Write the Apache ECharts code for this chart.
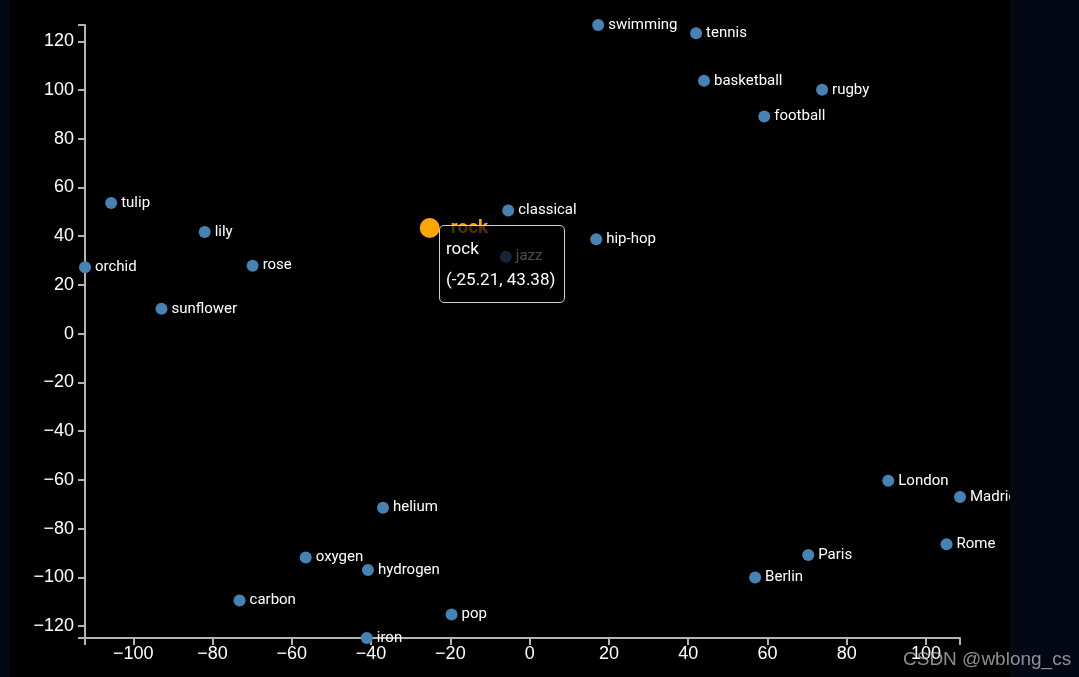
<!DOCTYPE html>
<html>
<head>
<meta charset="utf-8">
<script src="https://cdn.jsdelivr.net/npm/echarts@6/dist/echarts.min.js"></script>
<style>
  html, body { margin: 0; padding: 0; background: #040814; width: 1079px; height: 677px; overflow: hidden; }
  #chart { position: absolute; left: 10px; top: 0; width: 1000px; height: 677px; background: #000; }
  .mark { position: absolute; left: 903px; top: 649px; font: 19px 'Liberation Sans', sans-serif; line-height: 19px; color: rgba(190, 190, 190, 0.75); white-space: nowrap; }
</style>
</head>
<body>
<div id="chart"></div>
<div class="mark">CSDN @wblong_cs</div>
<script>
// words and their 2-D embedding coordinates
const words = ['swimming', 'tennis', 'basketball', 'rugby', 'football',
  'tulip', 'lily', 'orchid', 'rose', 'sunflower',
  'rock', 'classical', 'jazz', 'hip-hop', 'pop',
  'iron', 'carbon', 'oxygen', 'hydrogen', 'helium',
  'London', 'Madrid', 'Rome', 'Paris', 'Berlin']
const xs = [17.3, 42.0, 44.0, 73.8, 59.2,
  -105.6, -82.0, -112.2, -69.9, -92.9,
  -25.21, -5.4, -6.0, 16.8, -19.7,
  -41.1, -73.2, -56.5, -40.8, -37.0,
  90.5, 108.6, 105.2, 70.3, 56.9]
const ys = [126.7, 123.3, 103.8, 100.1, 89.1,
  53.6, 41.7, 27.3, 27.9, 10.2,
  43.38, 50.6, 31.6, 38.8, -115.3,
  -124.9, -109.5, -91.9, -97.0, -71.4,
  -60.4, -67.0, -86.4, -90.8, -100.1]
const xTicks = [-100, -80, -60, -40, -20, 0, 20, 40, 60, 80, 100]
const yTicks = [-120, -100, -80, -60, -40, -20, 0, 20, 40, 60, 80, 100, 120]
const selected = 'rock'

const minus = v => (v < 0 ? '\u2212' + Math.abs(v) : String(v))

const points = words.map((name, i) => {
  const item = { name, value: [xs[i], ys[i]] }
  if (name === selected) {
    item.symbolSize = 20
    item.itemStyle = { color: '#ffa500', opacity: 1 }
    item.label = { color: '#ffa500', fontWeight: 'bold', fontSize: 19, distance: 11 }
  }
  return item
})

// d3-like axis: domain = data extent, outer ticks at both ends
function axis(values, ticks, margin) {
  const lo = Math.min(...values)
  const hi = Math.max(...values)
  return {
    type: 'value',
    min: lo,
    max: hi,
    splitLine: { show: false },
    axisLine: { onZero: false, lineStyle: { color: '#b4b4b4', width: 2 } },
    axisTick: { length: 7, customValues: [lo, ...ticks, hi], lineStyle: { color: '#b4b4b4', width: 2 } },
    axisLabel: {
      customValues: ticks, margin,
      color: '#fff', fontSize: 18, fontFamily: 'Liberation Sans', formatter: minus
    }
  }
}

const chart = echarts.init(document.getElementById('chart'))
chart.setOption({
  animation: false,
  backgroundColor: '#000',
  grid: { left: 75, right: 50, top: 25, bottom: 39, containLabel: false, outerBoundsMode: 'none' },
  xAxis: axis(xs, xTicks, 7),
  yAxis: axis(ys, yTicks, 11),
  tooltip: {
    trigger: 'item',
    triggerOn: 'none',
    alwaysShowContent: true,
    transitionDuration: 0,
    position: [429, 225],
    backgroundColor: 'rgba(0,0,0,0.7)',
    borderColor: '#cfcfcf',
    borderWidth: 1,
    borderRadius: 5,
    padding: [7, 9, 7, 6],
    extraCssText: 'box-shadow:none;',
    formatter: p => `<div style="font:17px Roboto,sans-serif;line-height:31px;color:#fff">${p.name}<br>(${p.value[0].toFixed(2)}, ${p.value[1].toFixed(2)})</div>`
  },
  series: [{
    type: 'scatter',
    symbolSize: 12,
    itemStyle: { color: '#4682b4', opacity: 1 },
    emphasis: { disabled: true },
    label: {
      show: true, position: 'right', distance: 4, formatter: '{b}',
      color: '#fff', fontSize: 15, fontFamily: 'Roboto'
    },
    data: points
  }]
})
chart.dispatchAction({ type: 'showTip', seriesIndex: 0, dataIndex: words.indexOf(selected) })
</script>
</body>
</html>
